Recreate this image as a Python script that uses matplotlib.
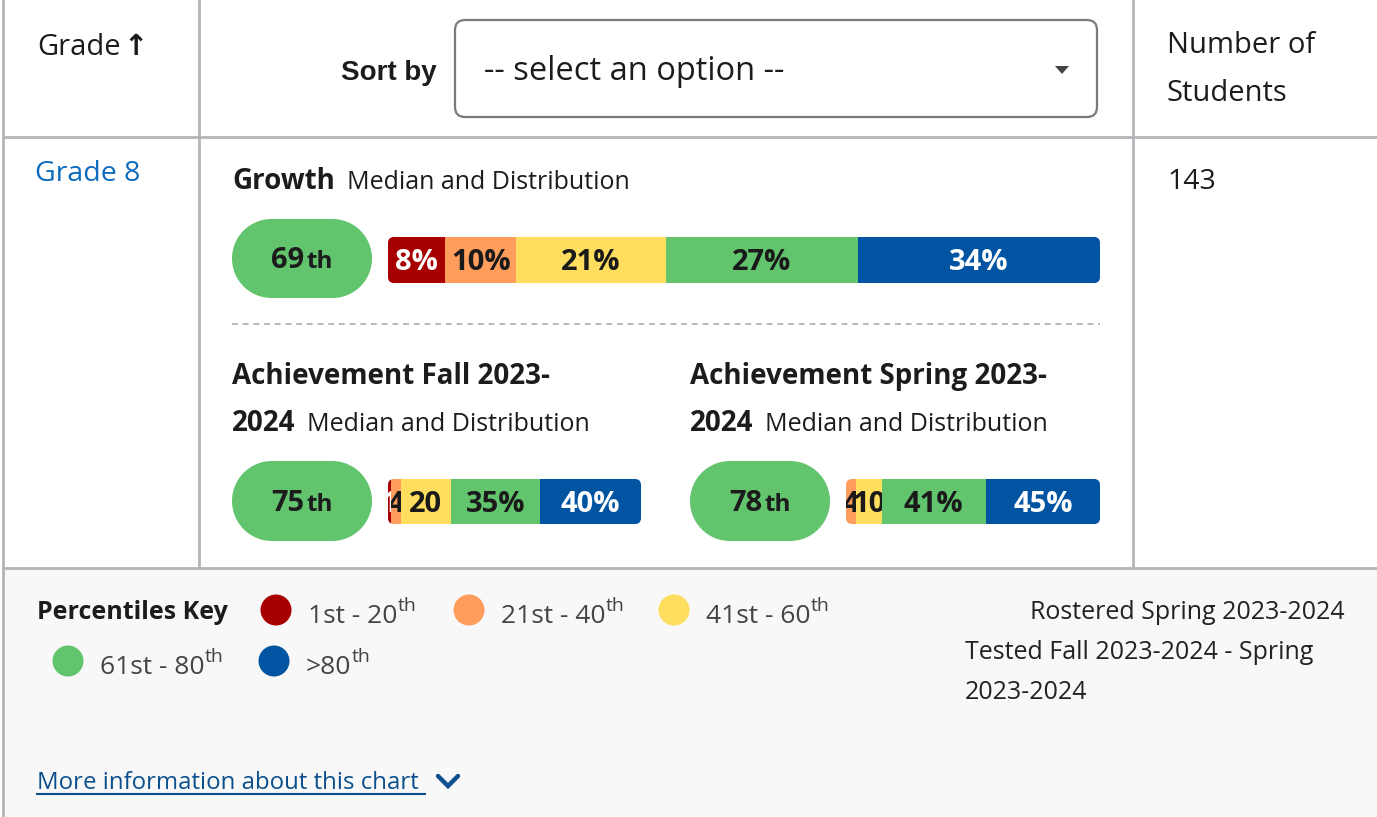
import matplotlib
matplotlib.use("Agg")
import matplotlib.pyplot as plt
from matplotlib.patches import FancyBboxPatch, Rectangle, Ellipse, Polygon
from matplotlib.transforms import offset_copy
import numpy as np

plt.rcParams['font.family'] = ['Open Sans', 'DejaVu Sans']

W, H = 1377, 817

# data
grade_label = "Grade 8"
student_count = "143"
band_labels = ["1st - 20", "21st - 40", "41st - 60", "61st - 80", ">80"]
band_colors = ["#a80000", "#ff9d5c", "#ffde5f", "#62c46d", "#0054a1"]
band_text = ["white", "#1a1a1a", "#1a1a1a", "#1a1a1a", "white"]

growth_median = 69
growth_dist = [8, 10, 21, 27, 34]
fall_median = 75
fall_dist = [1, 4, 20, 35, 40]
spring_median = 78
spring_dist = [0, 4, 10, 41, 45]

fig = plt.figure(figsize=(W / 100, H / 100), dpi=100)
ax = fig.add_axes([0, 0, 1, 1])
ax.set_xlim(0, W)
ax.set_ylim(H, 0)
ax.axis('off')
renderer = fig.canvas.get_renderer()

DARK = "#1c1c1c"
LINE = "#b4b4b9"


def txt(x, y, s, size, weight='normal', color=DARK, ha='left', **kw):
    return ax.text(x, y, s, fontsize=size, fontweight=weight, color=color,
                   ha=ha, va='baseline', **kw)


def width(t):
    return t.get_window_extent(renderer).width


# table background and grid
ax.add_patch(Rectangle((3, 568), W, H - 568, facecolor="#f8f8f8", edgecolor='none'))
ax.plot([3, 3], [0, H], color=LINE, lw=2)
ax.plot([199, 199], [0, 568], color=LINE, lw=2)
ax.plot([1133, 1133], [0, 568], color=LINE, lw=2)
ax.plot([3, W], [137, 137], color=LINE, lw=2)
ax.plot([3, W], [568, 568], color=LINE, lw=2)

# header
g = txt(37, 55, "Grade", 21)
txt(37 + width(g) + 3, 55, "\u2191", 21, 'bold', family=['DejaVu Sans'])
txt(437, 80, "Sort by", 20, 'bold', ha='right', family=['Liberation Sans'])
ax.add_patch(FancyBboxPatch((455, 20), 642, 97, boxstyle="round,pad=0,rounding_size=10",
                            facecolor='white', edgecolor="#7a7a7a", lw=1.6))
txt(484, 80, "-- select an option --", 23.5)
ax.add_patch(Polygon([[1055, 66], [1069, 66], [1062, 74]], closed=True,
                     facecolor="#444444", edgecolor='none'))
txt(1167, 53, "Number of", 21)
txt(1167, 101, "Students", 21)

# row
txt(35, 181, grade_label, 20.5, color="#0d6bbd")
txt(1167, 189, student_count, 20.5)


def heading(x, y, bold, light):
    b = txt(x, y, bold, 20, 'bold')
    txt(x + width(b) + 12, y, light, 18)


def pill(x, y, w, h, median):
    r = h / 2
    col = band_colors[3]
    ax.add_patch(Rectangle((x + r, y), w - 2 * r, h, facecolor=col, edgecolor='none'))
    ax.add_patch(Ellipse((x + r, y + r), h, h, facecolor=col, edgecolor='none'))
    ax.add_patch(Ellipse((x + w - r, y + r), h, h, facecolor=col, edgecolor='none'))
    base = y + r + 10
    a = txt(0, base, str(median), 21, 'bold')
    b = txt(0, base, "th", 17.5, 'bold')
    wa, wb = width(a), width(b)
    x0 = x + w / 2 - (wa + wb + 2) / 2
    a.set_x(x0)
    b.set_x(x0 + wa + 2)


def dist_bar(x, y, w, h, dist):
    clip = FancyBboxPatch((x, y), w, h, boxstyle="round,pad=0,rounding_size=6",
                          transform=ax.transData)
    bax = fig.add_axes([x / W, 1 - (y + h) / H, w / W, h / H])
    bax.set_xlim(0, 100)
    bax.set_ylim(-0.5, 0.5)
    bax.axis('off')
    lefts = np.concatenate([[0], np.cumsum(dist)[:-1]])
    bars = bax.barh(0, dist, left=lefts, height=1, color=band_colors, linewidth=0)
    shift = offset_copy(bax.transData, fig=fig, x=0, y=-10.5, units='dots')
    for rect, v, l, c in zip(bars, dist, lefts, band_text):
        rect.set_clip_path(clip)
        if v == 0:
            continue
        t = bax.text(l + v / 2, 0, f"{v}%", transform=shift, ha='center', va='baseline',
                     fontsize=21, fontweight='bold', color=c)
        # narrow segments drop the percent sign and are cut at the segment edge
        if width(t) > rect.get_window_extent(renderer).width:
            t.set_text(str(v))
        t.set_clip_path(rect)
        t.set_clip_on(True)


# growth
heading(232, 189, "Growth", "Median and Distribution")
pill(232, 219, 140, 79, growth_median)
dist_bar(388, 237, 712, 46, growth_dist)
ax.plot([232, 1100], [324, 324], color="#b8b8b8", lw=1.4, ls=(0, (3, 2.5)))

# achievement
txt(232, 384, "Achievement Fall 2023-", 20, 'bold')
heading(232, 431, "2024", "Median and Distribution")
pill(232, 461, 140, 80, fall_median)
dist_bar(388, 479, 253, 45, fall_dist)

txt(690, 384, "Achievement Spring 2023-", 20, 'bold')
heading(690, 431, "2024", "Median and Distribution")
pill(690, 461, 140, 80, spring_median)
dist_bar(846, 479, 254, 45, spring_dist)

# footer / key
txt(37, 619, "Percentiles Key", 18, 'bold')
key_pos = [(276, 610), (469, 610), (674, 610), (68, 661), (274, 661)]
for (cx, cy), lab, col in zip(key_pos, band_labels, band_colors):
    ax.add_patch(Ellipse((cx, cy), 31, 31, facecolor=col, edgecolor='none'))
    t = txt(cx + 32, cy + 13, lab, 19, color="#444444")
    txt(cx + 32 + width(t), cy + 1, "th", 14, color="#444444")

txt(1345, 619, "Rostered Spring 2023-2024", 18, ha='right', color="#222222")
txt(965, 659, "Tested Fall 2023-2024 - Spring", 18, color="#222222")
txt(965, 699, "2023-2024", 18, color="#222222")

m = txt(37, 789, "More information about this chart ", 17.3, color="#0b4f8c")
ax.plot([37, 37 + width(m)], [794, 794], color="#0b4f8c", lw=1.5)
ax.plot([438, 448, 458], [776, 786, 776], color="#0b4f8c", lw=3.2,
        solid_capstyle='round', solid_joinstyle='miter')

fig.savefig("out.png", dpi=100, facecolor='white')
